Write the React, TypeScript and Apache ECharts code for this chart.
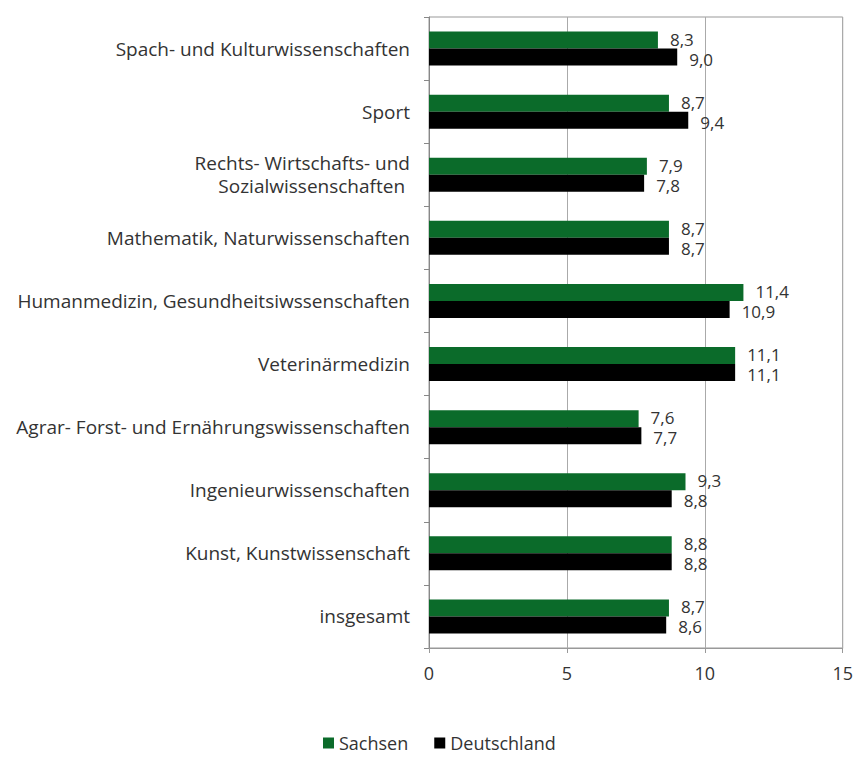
import React, { useEffect, useRef } from "react";
import * as echarts from "echarts";

const categories = [
  "Spach- und Kulturwissenschaften",
  "Sport",
  "Rechts- Wirtschafts- und\nSozialwissenschaften ",
  "Mathematik, Naturwissenschaften",
  "Humanmedizin, Gesundheitsiwssenschaften",
  "Veterinärmedizin",
  "Agrar- Forst- und Ernährungswissenschaften",
  "Ingenieurwissenschaften",
  "Kunst, Kunstwissenschaft",
  "insgesamt",
];
const sachsen = [8.3, 8.7, 7.9, 8.7, 11.4, 11.1, 7.6, 9.3, 8.8, 8.7];
const deutschland = [9.0, 9.4, 7.8, 8.7, 10.9, 11.1, 7.7, 8.8, 8.8, 8.6];
const seriesNames = ["Sachsen", "Deutschland"];

const FONT = "'Open Sans', 'Liberation Sans', sans-serif";

export default function App() {
  const ref = useRef<HTMLDivElement>(null);
  useEffect(() => {
    if (!ref.current) return;
    document.body.style.margin = "0";
    const chart = echarts.init(ref.current, undefined, { renderer: "svg" });
    const fmt = (p: any) => p.value.toFixed(1).replace(".", ",");
    const valueLabel = (dy: number) => ({
      show: true,
      position: "right",
      formatter: fmt,
      fontSize: 17,
      lineHeight: 15,
      color: "#333",
      offset: [0, dy],
      distance: 12,
    });
    chart.setOption({
      animation: false,
      textStyle: { fontFamily: FONT },
      grid: { left: 429, right: 11, top: 17, bottom: 110, show: true, borderColor: "#999", borderWidth: 1 },
      legend: {
        top: 734,
        left: 323,
        padding: 0,
        itemWidth: 11,
        itemHeight: 11,
        itemGap: 26,
        icon: "rect",
        textStyle: { fontSize: 18, color: "#333", fontFamily: FONT },
        data: seriesNames,
      },
      xAxis: {
        type: "value",
        min: 0,
        max: 15,
        interval: 5,
        axisLine: { show: true, lineStyle: { color: "#999" } },
        axisTick: { show: true, length: 5, lineStyle: { color: "#999" } },
        axisLabel: { fontSize: 18, color: "#333", margin: 16 },
        splitLine: { show: true, lineStyle: { color: "#aaa", width: 1 } },
      },
      yAxis: {
        type: "category",
        inverse: true,
        data: categories,
        axisLine: { show: true, lineStyle: { color: "#888" } },
        axisTick: { show: true, length: 5, lineStyle: { color: "#888" } },
        axisLabel: { fontSize: 19, color: "#333", margin: 19, lineHeight: 23 },
      },
      series: [
        {
          name: seriesNames[0],
          type: "bar",
          data: sachsen,
          barWidth: 17,
          barGap: "0%",
          itemStyle: { color: "#0b6b2a" },
          label: valueLabel(-1),
        },
        {
          name: seriesNames[1],
          type: "bar",
          data: deutschland,
          barWidth: 17,
          barGap: "0%",
          itemStyle: { color: "#000000" },
          label: valueLabel(2),
        },
      ],
    });
    return () => chart.dispose();
  }, []);
  return <div ref={ref} style={{ width: 856, height: 758 }} />;
}
